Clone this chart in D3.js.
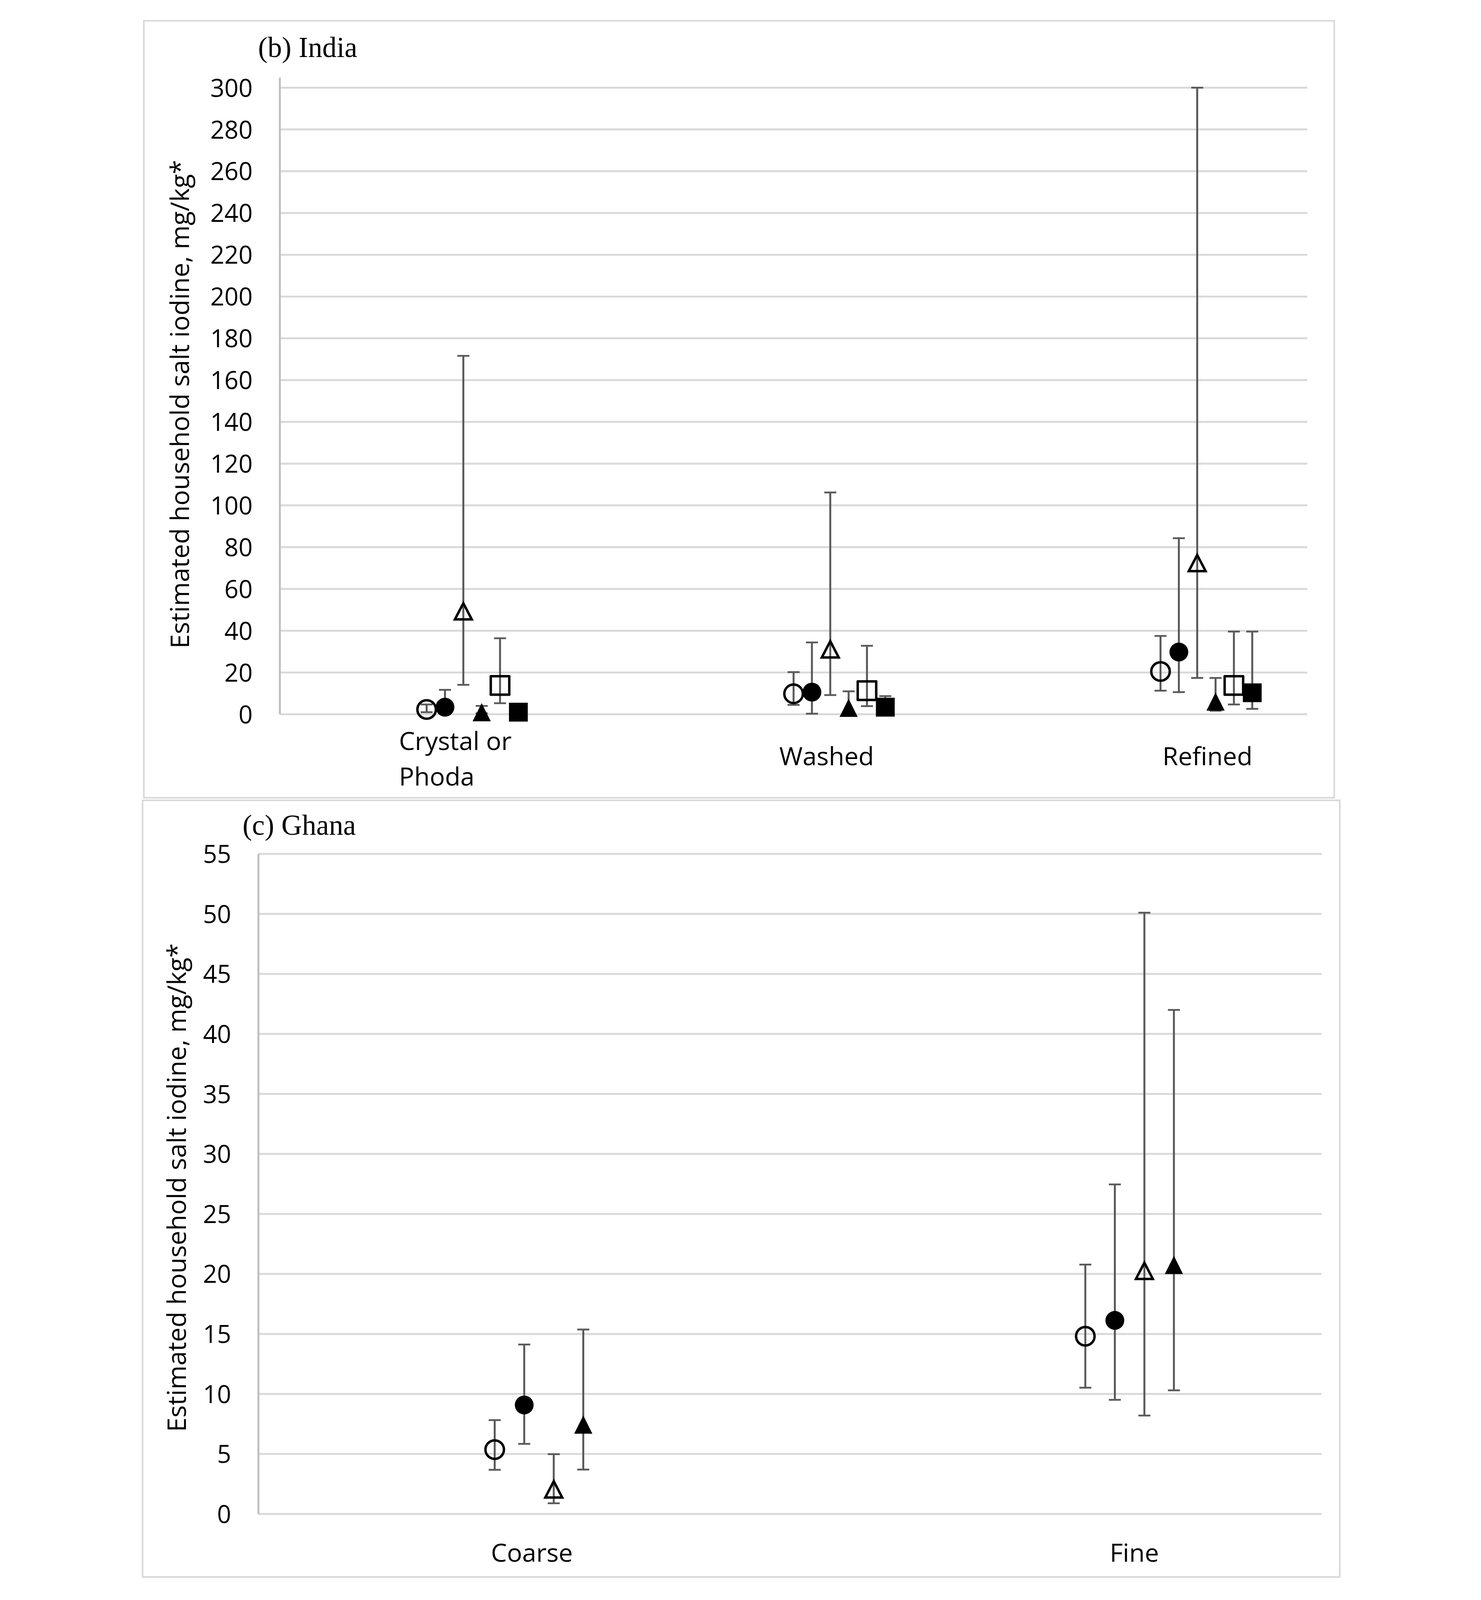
<!DOCTYPE html>
<html>
<head>
<meta charset="utf-8">
<script src="https://cdn.jsdelivr.net/npm/d3@7"></script>
<style>
  html, body { margin: 0; padding: 0; background: #ffffff; overflow: hidden; }
  svg { display: block; }
</style>
</head>
<body>
<script>
// ---------------- DATA ----------------
// Panel (b) India
const indiaCategories = ["Crystal or Phoda", "Washed", "Refined"];
const indiaTicks = [0, 20, 40, 60, 80, 100, 120, 140, 160, 180, 200, 220, 240, 260, 280, 300];
// per category, six series: open circle, filled circle, open triangle, filled triangle, open square, filled square
const indiaMean  = [
  [2.3, 3.4, 49.3, 1.0, 13.8, 1.0],
  [9.8, 10.6, 31.1, 3.1, 11.3, 3.4],
  [20.5, 29.8, 72.4, 6.1, 13.8, 10.3]
];
const indiaLower = [
  [1.0, 1.5, 14.1, 0.5, 5.3, 0.5],
  [4.5, 0.3, 9.2, 1.0, 3.9, 1.0],
  [11.3, 10.6, 17.4, 1.7, 4.7, 2.6]
];
const indiaUpper = [
  [4.7, 11.7, 171.6, 4.0, 36.4, 1.5],
  [20.2, 34.4, 106.2, 11.0, 32.8, 8.7],
  [37.5, 84.3, 300.0, 17.4, 39.6, 39.6]
];

// Panel (c) Ghana
const ghanaCategories = ["Coarse", "Fine"];
const ghanaTicks = [0, 5, 10, 15, 20, 25, 30, 35, 40, 45, 50, 55];
// per category, four series: open circle, filled circle, open triangle, filled triangle
const ghanaMean  = [
  [5.36, 9.08, 2.05, 7.45],
  [14.81, 16.13, 20.26, 20.75]
];
const ghanaLower = [
  [3.68, 5.84, 0.89, 3.70],
  [10.52, 9.51, 8.20, 10.30]
];
const ghanaUpper = [
  [7.82, 14.12, 4.98, 15.37],
  [20.78, 27.46, 50.10, 42.00]
];

const yTitle = "Estimated household salt iodine, mg/kg*";

// ---------------- STYLE ----------------
const seriesShape  = ["circle", "circle", "triangle", "triangle", "square", "square"];
const seriesFilled = [false, true, false, true, false, true];

const W = 3792, H = 4928;
const sansFont = "'Open Sans', 'Liberation Sans', sans-serif";
const serifFont = "'Liberation Serif', 'DejaVu Serif', serif";
const gridColor = "#d9d9d9";
const axisColor = "#bfbfbf";
const errColor = "#595959";

const svg = d3.select("body").append("svg")
  .attr("viewBox", `0 0 ${W} ${H}`)
  .attr("preserveAspectRatio", "xMidYMin meet")
  .style("width", "100vw")
  .style("height", "100vh");
svg.append("rect").attr("width", W).attr("height", H).attr("fill", "#ffffff");

function markerPath(shape, filled, cx, cy) {
  const p = d3.path();
  if (shape === "circle") {
    const r = filled ? 29 : 28.5;
    p.moveTo(cx + r, cy);
    p.arc(cx, cy, r, 0, 2 * Math.PI);
    p.closePath();
  } else if (shape === "square") {
    const h = filled ? 29 : 28.5;
    p.rect(cx - h, cy - h, 2 * h, 2 * h);
  } else {
    const tw = filled ? 56 : 52, th = filled ? 56 : 50;
    p.moveTo(cx, cy - th / 2);
    p.lineTo(cx + tw / 2, cy + th / 2);
    p.lineTo(cx - tw / 2, cy + th / 2);
    p.closePath();
  }
  return p.toString();
}

function drawPanel(cfg) {
  const g = svg.append("g");

  // outer border
  g.append("rect")
    .attr("x", cfg.border[0]).attr("y", cfg.border[1])
    .attr("width", cfg.border[2] - cfg.border[0])
    .attr("height", cfg.border[3] - cfg.border[1])
    .attr("fill", "none").attr("stroke", gridColor).attr("stroke-width", 5);

  const x = d3.scaleLinear().domain(cfg.xDomain).range(cfg.xRange);
  const y = d3.scaleLinear().domain([0, cfg.ticks[cfg.ticks.length - 1]]).range(cfg.yRange);

  // gridlines
  g.append("g").selectAll("line").data(cfg.ticks).join("line")
    .attr("x1", cfg.xRange[0]).attr("x2", cfg.xRange[1])
    .attr("y1", d => y(d)).attr("y2", d => y(d))
    .attr("stroke", gridColor).attr("stroke-width", 6);

  // y axis labels via d3 axis
  const yAxis = d3.axisLeft(y).tickValues(cfg.ticks).tickSize(0).tickPadding(84).tickFormat(d3.format("d"));
  const ag = g.append("g").attr("transform", `translate(${cfg.xRange[0]},0)`).call(yAxis);
  ag.select(".domain").remove();
  ag.selectAll("text")
    .attr("font-family", sansFont).attr("font-size", 76).attr("fill", "#000")
    .attr("dy", "0.36em");

  // vertical axis line
  g.append("line")
    .attr("x1", cfg.xRange[0]).attr("x2", cfg.xRange[0])
    .attr("y1", cfg.axisTop).attr("y2", y(0))
    .attr("stroke", axisColor).attr("stroke-width", 6);

  // panel title
  g.append("text")
    .attr("x", cfg.titlePos[0]).attr("y", cfg.titlePos[1])
    .attr("font-family", serifFont).attr("font-size", 88).attr("fill", "#000")
    .text(cfg.title);

  // y-axis title, sized to the reference length
  const yt = g.append("text")
    .attr("transform", `translate(${cfg.yTitlePos[0]},${cfg.yTitlePos[1]}) rotate(-90)`)
    .attr("text-anchor", "middle")
    .attr("font-family", sansFont).attr("font-size", 78).attr("fill", "#000")
    .text(yTitle);
  const natural = yt.node().getComputedTextLength();
  if (natural > 0) yt.attr("font-size", Math.min(80, 78 * 1505 / natural));

  // category labels (with simple wrapping)
  cfg.categories.forEach((cat, i) => {
    const cx = x(cfg.labelX[i]);
    const words = cat.split(" ");
    const lines = [];
    const probe = g.append("text").attr("font-family", sansFont).attr("font-size", 78);
    let cur = "";
    words.forEach(w => {
      const test = cur ? cur + " " + w : w;
      probe.text(test);
      if (probe.node().getComputedTextLength() > 420 && cur) {
        lines.push(cur); cur = w;
      } else cur = test;
    });
    lines.push(cur);
    probe.text(lines[0]);
    const w0 = probe.node().getComputedTextLength();
    probe.remove();
    if (lines.length === 1) {
      g.append("text").attr("x", cx).attr("y", cfg.labelBaseline)
        .attr("text-anchor", "middle")
        .attr("font-family", sansFont).attr("font-size", 78).attr("fill", "#000")
        .text(lines[0]);
    } else {
      const left = cx - w0 / 2;
      lines.forEach((ln, k) => {
        g.append("text").attr("x", left).attr("y", cfg.labelBaseline - 47 + k * 110)
          .attr("text-anchor", "start")
          .attr("font-family", sansFont).attr("font-size", 78).attr("fill", "#000")
          .text(ln);
      });
    }
  });

  // flatten points
  const pts = [];
  cfg.mean.forEach((row, ci) => {
    row.forEach((v, si) => {
      pts.push({
        xv: ci + 0.40 + 0.05 * si,
        mean: v, lo: cfg.lower[ci][si], hi: cfg.upper[ci][si],
        shape: seriesShape[si], filled: seriesFilled[si]
      });
    });
  });

  // error bars
  const eg = g.append("g");
  const capHalf = 18.5;
  pts.forEach(p => {
    const px = x(p.xv);
    eg.append("line").attr("x1", px).attr("x2", px)
      .attr("y1", y(p.lo)).attr("y2", y(p.hi))
      .attr("stroke", errColor).attr("stroke-width", 6);
    [p.lo, p.hi].forEach(v => {
      eg.append("line").attr("x1", px - capHalf).attr("x2", px + capHalf)
        .attr("y1", y(v)).attr("y2", y(v))
        .attr("stroke", errColor).attr("stroke-width", 5.5);
    });
  });

  // markers
  g.append("g").selectAll("path").data(pts).join("path")
    .attr("d", p => markerPath(p.shape, p.filled, x(p.xv), y(p.mean)))
    .attr("fill", p => p.filled ? "#000" : "none")
    .attr("stroke", p => p.filled ? "none" : "#000")
    .attr("stroke-width", 7.5)
    .attr("stroke-linejoin", p => p.shape === "triangle" ? "miter" : "round");
}

drawPanel({
  border: [58, 64, 3725, 2457],
  title: "(b) India", titlePos: [410, 176],
  xDomain: [0, 2.8], xRange: [477, 3642],
  yRange: [2200, 270], axisTop: 239,
  ticks: indiaTicks,
  categories: indiaCategories,
  labelX: [0.478, 1.49, 2.528], labelBaseline: 2357,
  mean: indiaMean, lower: indiaLower, upper: indiaUpper,
  yTitlePos: [197, 1245]
});

drawPanel({
  border: [54, 2465, 3742, 4857],
  title: "(c) Ghana", titlePos: [362, 2571],
  xDomain: [0, 1.8], xRange: [411, 3686],
  yRange: [4663, 2630], axisTop: 2630,
  ticks: ghanaTicks,
  categories: ghanaCategories,
  labelX: [0.463, 1.483], labelBaseline: 4810,
  mean: ghanaMean, lower: ghanaLower, upper: ghanaUpper,
  yTitlePos: [187, 3658]
});
</script>
</body>
</html>
